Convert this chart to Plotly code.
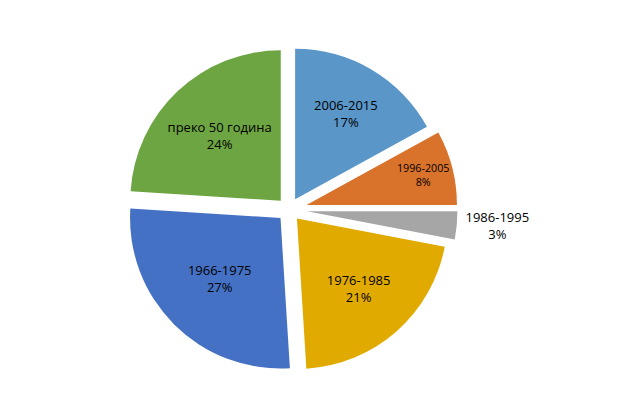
import plotly.graph_objects as go

labels = ["2006-2015", "1996-2005", "1986-1995", "1976-1985", "1966-1975", "преко 50 година"]
values = [17, 8, 3, 21, 27, 24]
colors = ["#5a96c8", "#d9732c", "#a6a6a6", "#e0aa00", "#4571c4", "#6ea543"]

fig = go.Figure(go.Pie(
    labels=labels, values=values, sort=False, direction="clockwise", rotation=0,
    marker=dict(colors=colors, line=dict(color="white", width=0)),
    pull=[0.08, 0.12, 0.12, 0.08, 0.08, 0.08],
    textposition=["inside", "inside", "outside", "inside", "inside", "inside"],
    insidetextorientation="horizontal",
    texttemplate="%{label}<br>%{percent:.0%}",
    textfont=dict(family="Open Sans", size=13, color="black"),
    showlegend=False,
))
fig.update_layout(width=643, height=402, margin=dict(l=20, r=20, t=20, b=20),
                  paper_bgcolor="white")
fig.write_html("out.html")
